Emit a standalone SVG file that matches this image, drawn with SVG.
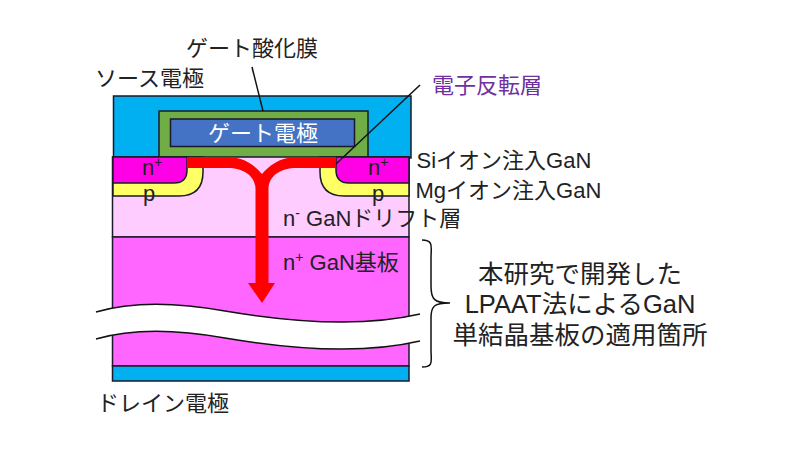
<svg xmlns="http://www.w3.org/2000/svg" width="800" height="450" viewBox="0 0 800 450">
<style>
.o{stroke:#1a1a2a;stroke-width:1.5}
.l{fill:none;stroke:#111;stroke-width:1.5}
text{font-family:"Liberation Sans","Noto Sans CJK JP",sans-serif;font-size:22px;fill:#222}
.m{text-anchor:middle}
</style>
<rect width="800" height="450" fill="#fff"/>
<g id="source-electrode"><rect class="o" x="113.500" y="96" width="297.500" height="62" fill="#00b0f0"/><text x="95" y="86">ソース電極</text></g>
<g id="gate-oxide"><rect class="o" x="159" y="111" width="209" height="47" fill="#70ad47"/><text x="186" y="56">ゲート酸化膜</text></g>
<g id="gate-electrode"><rect class="o" x="170.500" y="119" width="184" height="27.500" fill="#4472c4"/><text class="m" x="263" y="141" style="fill:#fff">ゲート電極</text></g>
<g id="drift"><rect class="o" x="112.500" y="157" width="296.500" height="80" fill="#ffccff"/><text x="283" y="226">n<tspan font-size="14" dy="-8">-</tspan><tspan dy="8"> GaNドリフト層</tspan></text></g>
<g id="p-left"><path class="o" d="M113 157H203V172Q203 196 179 196H113Z" fill="#ffff66"/><text class="m" x="149" y="201">p</text></g>
<g id="p-right"><path class="o" d="M409 157H320V172Q320 196 344 196H409Z" fill="#ffff66"/><text class="m" x="378" y="201">p</text></g>
<g id="n-left"><path class="o" d="M113 157H187V170Q187 183 174 183H113Z" fill="#ff00e6"/><text x="142" y="175">n<tspan font-size="14" dy="-8">+</tspan></text></g>
<g id="n-right"><path class="o" d="M409 157H336V170Q336 183 349 183H409Z" fill="#ff00e6"/><text x="368" y="175">n<tspan font-size="14" dy="-8">+</tspan></text></g>
<g id="substrate"><rect class="o" x="112.500" y="237" width="296.500" height="129" fill="#ff66ff"/><text x="283" y="270">n<tspan font-size="14" dy="-8">+</tspan><tspan dy="8"> GaN基板</tspan></text></g>
<g id="drain-electrode"><rect class="o" x="112.500" y="366" width="296.500" height="15" fill="#00b0f0"/><text x="97" y="411">ドレイン電極</text></g>
<g id="wave-break">
<path d="M96 312C130 302 175 302 225 311C290 322 360 328 420 314V341C360 355 290 349 225 338C175 329 130 329 96 339Z" fill="#fff"/>
<path class="l" d="M96 312C130 302 175 302 225 311C290 322 360 328 420 314"/>
<path class="l" d="M96 339C130 329 175 329 225 338C290 349 360 355 420 341"/>
</g>
<g id="connectors">
<path d="M187 157H228C245 157 256 167 262 174C268 167 279 157 296 157H336V168H296C282 168 268 175 268.500 190V284H255.500V190C256 175 242 168 228 168H187Z" fill="#f00"/>
<path d="M248 283H275L262 303Z" fill="#f00"/>
<path class="l" d="M252 67L263 111"/>
<path class="l" d="M336 164L420 85"/>
<path class="l" d="M422 240C434 240 431 247 431 258V286C431 299 434 303 450 303M450 303C434 303 431 306 431 318V350C431 361 434 367 422 367" stroke-width="2"/>
</g>
<g id="labels">
<text x="432" y="93" style="fill:#7030a0">電子反転層</text>
<text x="416.500" y="168">Siイオン注入GaN</text>
<text x="415.500" y="198">Mgイオン注入GaN</text>
<text class="m" x="580" y="283" style="font-size:25.500px">本研究で開発した</text>
<text class="m" x="580" y="313" style="font-size:25.500px">LPAAT法によるGaN</text>
<text class="m" x="580" y="344" style="font-size:25.500px">単結晶基板の適用箇所</text>
</g>
</svg>
